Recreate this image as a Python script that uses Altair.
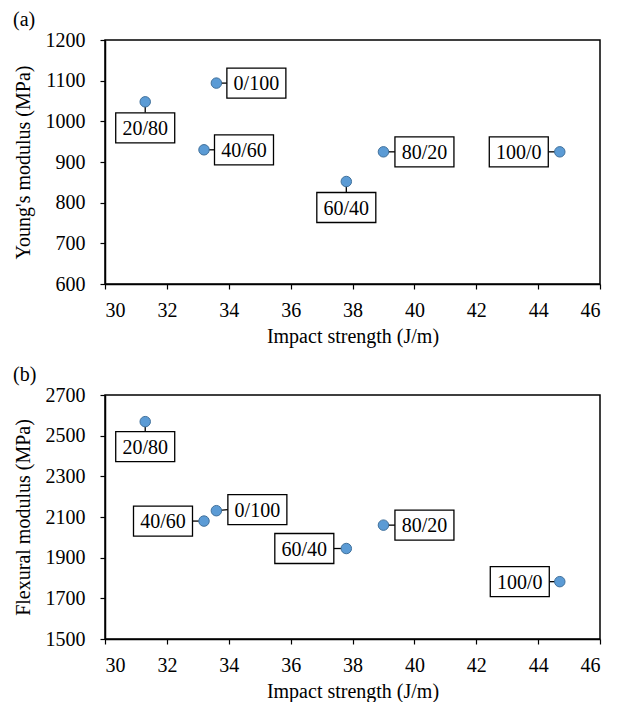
import altair as alt
import pandas as pd

labels = ["0/100", "20/80", "40/60", "60/40", "80/20", "100/0"]
impact = [33.6, 31.3, 33.2, 37.8, 39.0, 44.7]
young = [1094, 1048, 930, 852, 925, 925]
flexural = [2131, 2569, 2080, 1945, 2060, 1782]

# callout offsets (pixels, relative to point)
a_dx = [40, 0, 40, 0, 41, -41]
a_dy = [0, 26, 0, 26, 0, 0]
b_dx = [41, 0, -41, -42, 41, -40]
b_dy = [-1, 25, 0, 0, 0, 0]

W, H = 495, 244
X_DOM = [30, 46]
BW, BH = 59, 30
FONT = "Liberation Serif"


def panel(yvals, dxs, dys, ydom, ytitle, tag):
    df = pd.DataFrame({"x": impact, "y": yvals, "label": labels, "dx": dxs, "dy": dys})
    kx = (X_DOM[1] - X_DOM[0]) / W
    ky = (ydom[1] - ydom[0]) / H
    base = alt.Chart(df).transform_calculate(
        cx=f"datum.x + datum.dx * {kx}",
        cy=f"datum.y - datum.dy * {ky}",
    ).transform_calculate(
        bx1=f"datum.cx - {BW / 2 * kx}",
        bx2=f"datum.cx + {BW / 2 * kx}",
        by1=f"datum.cy - {BH / 2 * ky}",
        by2=f"datum.cy + {BH / 2 * ky}",
        ex=f"datum.dx != 0 ? datum.cx - (datum.dx > 0 ? 1 : -1) * {BW / 2 * kx} : datum.cx",
        ey=f"datum.dx != 0 ? datum.cy : datum.cy + (datum.dy > 0 ? 1 : -1) * {BH / 2 * ky}",
    )
    xs = alt.Scale(domain=X_DOM, nice=False, zero=False)
    ys = alt.Scale(domain=ydom, nice=False, zero=False)
    xax = alt.Axis(values=list(range(30, 47, 2)), title="Impact strength (J/m)", format="d",
                   labelPadding=11, titlePadding=6)
    yax = alt.Axis(values=list(range(ydom[0], ydom[1] + 1, (ydom[1] - ydom[0]) // 6)),
                   title=ytitle, format="d", labelPadding=15, titlePadding=12)

    lead = base.mark_rule(color="black", strokeWidth=1.3).encode(
        x=alt.X("x:Q", scale=xs, axis=xax), y=alt.Y("y:Q", scale=ys, axis=yax),
        x2="ex:Q", y2="ey:Q")
    box = base.mark_rect(fill="white", stroke="black", strokeWidth=1.3).encode(
        x=alt.X("bx1:Q", scale=xs), x2="bx2:Q", y=alt.Y("by1:Q", scale=ys), y2="by2:Q")
    txt = base.mark_text(font=FONT, fontSize=20, color="black", baseline="middle", dy=1).encode(
        x=alt.X("cx:Q", scale=xs), y=alt.Y("cy:Q", scale=ys), text="label:N")
    pts = base.mark_point(filled=True, size=110, fill="#5B9BD5", stroke="#41719C",
                          strokeWidth=1, opacity=1, shape="circle").encode(
        x=alt.X("x:Q", scale=xs), y=alt.Y("y:Q", scale=ys))
    return alt.layer(lead, box, txt, pts).properties(
        width=W, height=H,
        title=alt.TitleParams(tag, anchor="start", frame="bounds", font=FONT,
                              fontSize=20, fontWeight="normal", color="black", offset=0),
    )


pa = panel(young, a_dx, a_dy, [600, 1200], "Young's modulus (MPa)", "(a)")
pb = panel(flexural, b_dx, b_dy, [1500, 2700], "Flexural modulus (MPa)", "(b)")

chart = alt.vconcat(
    pa, pb, spacing=17, background="white",
    padding={"left": 4, "top": 1, "right": 5, "bottom": 5},
).configure_view(
    stroke="black", strokeWidth=1.5
).configure_axis(
    grid=False, labelFont=FONT, titleFont=FONT, labelFontSize=20, titleFontSize=20,
    titleFontWeight="normal", labelColor="black", titleColor="black",
    domainColor="black", domainWidth=1.5, tickColor="black", tickSize=5, tickWidth=1.2,
)

chart.save("out.html", embed_options={"renderer": "svg", "actions": False})
